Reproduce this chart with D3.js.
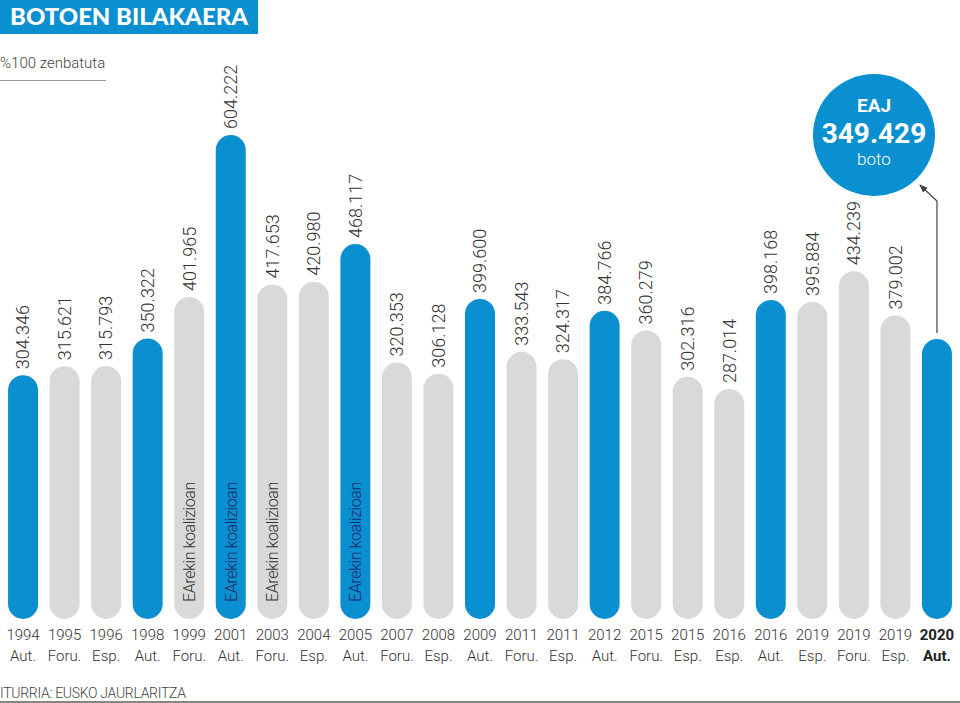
<!DOCTYPE html>
<html>
<head>
<meta charset="utf-8">
<script src="https://cdn.jsdelivr.net/npm/d3@7"></script>
<style>
  body { margin: 0; background: #fff; }
  #figure { width: 960px; height: 703px; }
  text { font-family: Roboto, sans-serif; font-weight: 300; fill: #333; }
</style>
</head>
<body>
<div id="figure"></div>
<script>
const years = ["1994","1995","1996","1998","1999","2001","2003","2004","2005","2007","2008","2009",
               "2011","2011","2012","2015","2015","2016","2016","2019","2019","2019","2020"];
const kinds = ["Aut.","Foru.","Esp.","Aut.","Foru.","Aut.","Foru.","Esp.","Aut.","Foru.","Esp.","Aut.",
               "Foru.","Esp.","Aut.","Foru.","Esp.","Esp.","Aut.","Esp.","Foru.","Esp.","Aut."];
const votes = [304346, 315621, 315793, 350322, 401965, 604222, 417653, 420980, 468117, 320353, 306128, 399600,
               333543, 324317, 384766, 360279, 302316, 287014, 398168, 395884, 434239, 379002, 349429];
const coalition = [4, 5, 6, 8]; // indices with "EArekin koalizioan"

const blue = "#0a8fd0", grey = "#d9d9d9";
const fmt = v => d3.format(",")(v).replace(/,/g, ".");

const W = 960, H = 703;
const last = votes.length - 1;
const svg = d3.select("#figure").append("svg").attr("width", W).attr("height", H);

const x = d3.scaleBand()
            .domain(d3.range(votes.length))
            .range([-3.5, 963.5])
            .padding(0.278);
const y = d3.scaleLinear().domain([0, 604222]).range([619, 135]);
const bw = x.bandwidth();

// title
svg.append("rect").attr("x", 0).attr("y", 0).attr("width", 258).attr("height", 34).attr("fill", blue);
svg.append("text").attr("x", 10).attr("y", 25)
   .attr("textLength", 238).attr("lengthAdjust", "spacingAndGlyphs")
   .style("font-family", "Lato, 'DejaVu Sans', sans-serif").style("font-weight", 900)
   .style("font-size", "23px").style("fill", "#fff")
   .text("BOTOEN BILAKAERA");

svg.append("text").attr("x", 0).attr("y", 68)
   .style("font-size", "15px").style("fill", "#444")
   .text("%100 zenbatuta");
svg.append("line").attr("x1", 0).attr("x2", 106).attr("y1", 80.5).attr("y2", 80.5)
   .attr("stroke", "#999").attr("stroke-width", 1);

// bars (pill shaped)
const bars = svg.append("g").selectAll("g").data(votes).join("g");
bars.append("rect")
    .attr("x", (d, i) => x(i))
    .attr("y", d => y(d))
    .attr("width", bw)
    .attr("height", d => y(0) - y(d))
    .attr("rx", bw / 2).attr("ry", bw / 2)
    .attr("fill", (d, i) => kinds[i] === "Aut." ? blue : grey);

// value labels (the last one is shown in the circle)
bars.filter((d, i) => i !== last).append("text")
    .attr("transform", (d, i) => `translate(${x(i) + bw / 2},${y(d) - 6}) rotate(-90)`)
    .attr("dy", "0.35em")
    .style("font-size", "18px").style("fill", "#333")
    .text(d => fmt(d));

// coalition labels
svg.append("g").selectAll("text").data(coalition).join("text")
   .attr("transform", i => `translate(${x(i) + bw / 2},602) rotate(-90)`)
   .attr("dy", "0.36em")
   .style("font-size", "16px").style("letter-spacing", "-0.4px")
   .style("fill", i => kinds[i] === "Aut." ? "#1b2a6b" : "#333")
   .text("EArekin koalizioan");

// x labels
const isLast = (d, i) => i === last;
const xl = svg.append("g").selectAll("g").data(years).join("g")
   .attr("transform", (d, i) => `translate(${x(i) + bw / 2},0)`);
xl.append("text").attr("y", 640).attr("text-anchor", "middle")
  .style("font-weight", (d, i) => isLast(d, i) ? 700 : 300)
  .style("font-size", "15px").style("fill", (d, i) => isLast(d, i) ? "#222" : "#333")
  .text(d => d);
xl.append("text").attr("y", 661).attr("text-anchor", "middle")
  .style("font-weight", (d, i) => isLast(d, i) ? 700 : 300)
  .style("font-size", "15px").style("fill", (d, i) => isLast(d, i) ? "#222" : "#333")
  .text((d, i) => kinds[i]);

// callout circle
const cx = 874, cy = 135;
svg.append("circle").attr("cx", cx).attr("cy", cy).attr("r", 61).attr("fill", blue);
svg.append("text").attr("x", cx).attr("y", 112).attr("text-anchor", "middle")
   .style("font-weight", 700).style("font-size", "19px").style("fill", "#fff")
   .text("EAJ");
svg.append("text").attr("x", cx).attr("y", 143).attr("text-anchor", "middle")
   .style("font-weight", 700).style("font-size", "28px").style("fill", "#fff")
   .text(fmt(votes[last]));
svg.append("text").attr("x", cx).attr("y", 165).attr("text-anchor", "middle")
   .style("font-weight", 300).style("font-size", "17px").style("fill", "#fff")
   .text("boto");

// arrow from last bar to circle
svg.append("defs").append("marker")
   .attr("id", "arr").attr("viewBox", "0 0 10 10").attr("refX", 9).attr("refY", 5)
   .attr("markerWidth", 7).attr("markerHeight", 7).attr("orient", "auto")
   .append("path").attr("d", "M0,1 L10,5 L0,9 Z").attr("fill", "#444");
const ax = x(last) + bw / 2;
svg.append("path")
   .attr("d", `M${ax},${y(votes[last]) - 6} L${ax},201 L${ax - 17},185`)
   .attr("fill", "none").attr("stroke", "#444").attr("stroke-width", 1.2)
   .attr("marker-end", "url(#arr)");

// footer
svg.append("text").attr("x", 0).attr("y", 698)
   .style("font-size", "14px").style("fill", "#444").style("letter-spacing", "-0.3px")
   .text("ITURRIA: EUSKO JAURLARITZA");
svg.append("line").attr("x1", 0).attr("x2", W).attr("y1", 702).attr("y2", 702)
   .attr("stroke", "#8a8580").attr("stroke-width", 2);
</script>
</body>
</html>
